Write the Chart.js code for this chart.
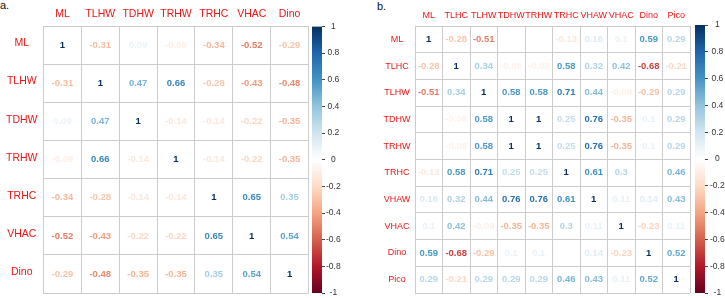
<!DOCTYPE html>
<html><head><meta charset="utf-8">
<script src="https://cdn.jsdelivr.net/npm/chart.js@4/dist/chart.umd.min.js"></script>
<style>
html,body{margin:0;padding:0;background:#fff;width:725px;height:298px;overflow:hidden;position:relative;}
canvas{position:absolute;}
.tag{position:absolute;font:11px "Liberation Sans",Arial,sans-serif;color:#111;line-height:11px;}
</style></head><body>
<div class="tag" style="left:0px;top:0px">a.</div>
<div class="tag" style="left:377px;top:1px">b.</div>
<canvas id="ma" width="310" height="298" style="left:0;top:0"></canvas>
<canvas id="ca" width="50" height="298" style="left:312px;top:0"></canvas>
<canvas id="mb" width="315" height="298" style="left:378px;top:0"></canvas>
<canvas id="cb" width="30" height="298" style="left:695px;top:0"></canvas>
<script>
// ---- data ----
const labelsA = ['ML','TLHW','TDHW','TRHW','TRHC','VHAC','Dino'];
const corrA = [
 [1,-0.31,0.09,-0.09,-0.34,-0.52,-0.29],
 [-0.31,1,0.47,0.66,-0.28,-0.43,-0.48],
 [0.09,0.47,1,-0.14,-0.14,-0.22,-0.35],
 [-0.09,0.66,-0.14,1,-0.14,-0.22,-0.35],
 [-0.34,-0.28,-0.14,-0.14,1,0.65,0.35],
 [-0.52,-0.43,-0.22,-0.22,0.65,1,0.54],
 [-0.29,-0.48,-0.35,-0.35,0.35,0.54,1]
];
const labelsB = ['ML','TLHC','TLHW','TDHW','TRHW','TRHC','VHAW','VHAC','Dino','Pico'];
const corrB = [
 [1,-0.28,-0.51,0,0,-0.13,0.16,0.1,0.59,0.29],
 [-0.28,1,0.34,-0.08,-0.08,0.58,0.32,0.42,-0.68,-0.21],
 [-0.51,0.34,1,0.58,0.58,0.71,0.44,-0.09,-0.29,0.29],
 [0,-0.08,0.58,1,1,0.25,0.76,-0.35,0.1,0.29],
 [0,-0.08,0.58,1,1,0.25,0.76,-0.35,0.1,0.29],
 [-0.13,0.58,0.71,0.25,0.25,1,0.61,0.3,0.01,0.46],
 [0.16,0.32,0.44,0.76,0.76,0.61,1,0.11,0.14,0.43],
 [0.1,0.42,-0.09,-0.35,-0.35,0.3,0.11,1,-0.23,0.11],
 [0.59,-0.68,-0.29,0.1,0.1,0.01,0.14,-0.23,1,0.52],
 [0.29,-0.21,0.29,0.29,0.29,0.46,0.43,0.11,0.52,1]
];
const colorbarTicks = [-1,-0.8,-0.6,-0.4,-0.2,0,0.2,0.4,0.6,0.8,1];
const colorbarRange = [-1,1];

// ---- styling ----
const FONT = '"Liberation Sans", Arial, sans-serif';
Chart.defaults.font.family = FONT;
const GRID = '#cccccc';
const PAL = ["#67001F","#B2182B","#D6604D","#F4A582","#FDDBC7","#FFFFFF","#D1E5F0","#92C5DE","#4393C3","#2166AC","#053061"];
function hex(h){return [parseInt(h.slice(1,3),16),parseInt(h.slice(3,5),16),parseInt(h.slice(5,7),16)];}
function colorFor(v){
  const t=(Math.max(-1,Math.min(1,v))+1)/2*(PAL.length-1);
  const i=Math.min(Math.floor(t),PAL.length-2), f=t-i;
  const a=hex(PAL[i]), b=hex(PAL[i+1]);
  const c=a.map((x,k)=>Math.round(x+(b[k]-x)*f));
  return `rgb(${c[0]},${c[1]},${c[2]})`;
}

const valuePlugin = {
  id:'cellValues',
  afterDatasetsDraw(chart, args, opts){
    const ctx = chart.ctx, meta = chart.getDatasetMeta(0), ds = chart.data.datasets[0];
    ctx.save();
    ctx.font = `bold ${opts.size}px ${FONT}`;
    ctx.textAlign='center'; ctx.textBaseline='middle';
    meta.data.forEach((el,i)=>{
      const v = ds.data[i].v;
      ctx.fillStyle = colorFor(v);
      ctx.fillText(String(v), el.x, el.y);
    });
    ctx.restore();
  }
};

function matrixChart(id, labels, corr, g){
  const pts=[];
  labels.forEach((r,i)=>labels.forEach((c,j)=>pts.push({x:c,y:r,v:corr[i][j]})));
  return new Chart(document.getElementById(id), {
    type:'scatter',
    data:{datasets:[{data:pts, pointRadius:0, pointHoverRadius:0}]},
    options:{
      responsive:false, animation:false, events:[],
      layout:{padding:g.pad},
      plugins:{legend:{display:false}, tooltip:{enabled:false}, cellValues:{size:g.valSize}},
      scales:{
        x:{type:'category', labels:labels, position:'top', offset:true,
          grid:{offset:true, color:GRID, lineWidth:1, drawTicks:false},
          border:{display:true, color:GRID},
          ticks:{color:'#f01414', font:{size:g.labSize}, padding:g.xPad, maxRotation:0, minRotation:0, autoSkip:false},
          afterFit(s){ s.height=g.top; s.paddingLeft=0; s.paddingRight=0; }},
        y:{type:'category', labels:labels, position:'left', offset:true,
          grid:{offset:true, color:GRID, lineWidth:1, drawTicks:false},
          border:{display:true, color:GRID},
          ticks:{color:'#f01414', font:{size:g.labSize}, padding:g.yPad, crossAlign:'center', autoSkip:false, labelOffset:g.yOff},
          afterFit(s){ s.width=g.left; s.paddingTop=0; s.paddingBottom=0; }}
      }
    },
    plugins:[valuePlugin]
  });
}

function colorbarChart(id, g){
  return new Chart(document.getElementById(id), {
    type:'bar',
    data:{labels:[''], datasets:[{data:[colorbarRange], borderWidth:0, barPercentage:1, categoryPercentage:1,
      backgroundColor(ctx){
        const ch=ctx.chart, a=ch.chartArea; if(!a) return '#fff';
        const gr=ch.ctx.createLinearGradient(0,a.bottom,0,a.top);
        PAL.forEach((c,i)=>gr.addColorStop(i/(PAL.length-1),c));
        return gr;
      }}]},
    options:{
      responsive:false, animation:false, events:[],
      layout:{padding:g.pad},
      plugins:{legend:{display:false}, tooltip:{enabled:false}},
      scales:{
        x:{display:false},
        y:{position:'right', min:colorbarRange[0], max:colorbarRange[1],
          afterBuildTicks(s){ s.ticks = colorbarTicks.map(v=>({value:v})); },
          ticks:{color:'#333', font:{size:8.5}, padding:g.tickPad, crossAlign:'center',
            callback:v=>String(Math.round(v*10)/10)},
          grid:{drawOnChartArea:false, drawTicks:true, tickLength:3, color:'#444'},
          border:{display:false},
          afterFit(s){ s.width=g.w; s.paddingTop=0; s.paddingBottom=0; }}
      }
    }
  });
}

matrixChart('ma', labelsA, corrA, {pad:{left:0,top:0,right:1.5,bottom:5}, top:26.5, left:43.5,
  labSize:10.5, valSize:9.5, xPad:6, yPad:6, yOff:-2});
colorbarChart('ca', {pad:{left:0,top:26.5,right:0,bottom:5}, w:40, tickPad:1});
matrixChart('mb', labelsB, corrB, {pad:{left:0,top:0,right:3,bottom:5}, top:26, left:37,
  labSize:9, valSize:9.5, xPad:5, yPad:4.5, yOff:0});
colorbarChart('cb', {pad:{left:0,top:25,right:0,bottom:5}, w:20, tickPad:2});
</script>
</body></html>
